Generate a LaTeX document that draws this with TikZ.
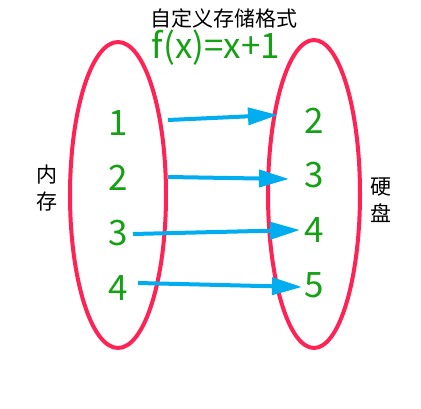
\documentclass[tikz,border=0pt]{standalone}
\usepackage{fontspec}
\setmainfont{Noto Sans CJK SC}
\usepackage{tikz}
\usetikzlibrary{arrows.meta,positioning}
\definecolor{ring}{HTML}{FF2255}
\definecolor{num}{HTML}{15A015}
\definecolor{flow}{HTML}{00AEEF}
\tikzset{
  ringline/.style={draw=ring, line width=4pt},
  val/.style={font=\fontsize{35}{35}\selectfont, text=num, inner sep=1pt},
  lbl/.style={font=\fontsize{21}{27}\selectfont, align=center, inner sep=1pt},
  arr/.style={-{Triangle[length=30pt, width=17pt]}, draw=flow, line width=4pt}
}

\begin{document}
\begin{tikzpicture}[x=1pt, y=-1pt]
\useasboundingbox (0,0) rectangle (421,409);
\draw[ringline] (118,195) ellipse [x radius=48, y radius=153];
\draw[ringline] (314,194) ellipse [x radius=46, y radius=154];
\node[lbl] (title) at (224,18) {自定义存储格式};
\node[val] (func) at (216,48) {f(x)=x+1};
\node[lbl] (mem) at (47,188) {内\\存};
\node[lbl] (disk) at (381,200) {硬\\盘};
% left column
\node[val] (l1) at (118,123) {1};
\node[val] (l2) at (118,178) {2};
\node[val] (l3) at (118,233) {3};
\node[val] (l4) at (118,288) {4};
% right column
\node[val] (r2) at (314,121) {2};
\node[val] (r3) at (314,175) {3};
\node[val] (r4) at (314,230) {4};
\node[val] (r5) at (314,285) {5};
% arrow ends
\coordinate (s1) at (168,120);
\coordinate (t1) at (278,115);
\coordinate (s2) at (168,177);
\coordinate (t2) at (289,179);
\coordinate (s3) at (133,234);
\coordinate (t3) at (300,230);
\coordinate (s4) at (138,283);
\coordinate (t4) at (302,287);
\draw[arr] (s1) -- (t1);
\draw[arr] (s2) -- (t2);
\draw[arr] (s3) -- (t3);
\draw[arr] (s4) -- (t4);
\end{tikzpicture}
\end{document}
